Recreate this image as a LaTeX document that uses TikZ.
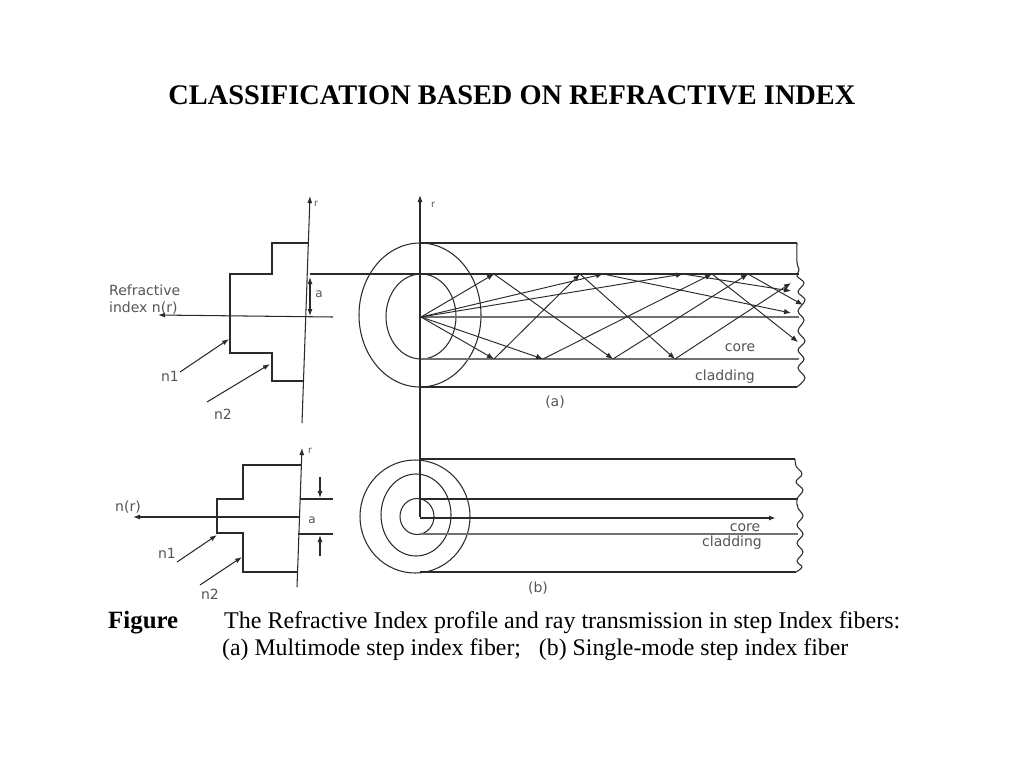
\documentclass[tikz,border=0pt]{standalone}
\usepackage{fontspec}
\usepackage{graphicx}
\setmainfont{Liberation Serif}
\newfontfamily\lblfont{DejaVu Sans}
\usetikzlibrary{arrows.meta}
\definecolor{lncol}{HTML}{2A2A2A}
\definecolor{lightln}{HTML}{707070}
\definecolor{txtcol}{HTML}{555555}
\tikzset{
  ln/.style={draw=lncol, line width=1.05pt},
  lnlight/.style={draw=lightln, line width=1.05pt},
  tip/.style={-{Latex[length=7pt,width=5pt]}},
  ray/.style={ln, line width=0.95pt, -{Latex[length=7pt,width=5.5pt]}},
  lbl/.style={font=\lblfont\fontsize{14}{16}\selectfont, text=txtcol, inner sep=0pt},
  small/.style={font=\lblfont\fontsize{9.5}{10}\selectfont, text=txtcol, inner sep=0pt}
}
\begin{document}
\begin{tikzpicture}[x=1pt,y=-1pt]
\useasboundingbox (0,0) rectangle (1024,768);
\fill[white] (0,0) rectangle (1024,768);

% Title
\node[inner sep=0pt] (title) at (512,95) {\resizebox{687pt}{!}{\bfseries CLASSIFICATION BASED ON REFRACTIVE INDEX}};

% ---------- Profile (a) ----------
\draw[ln, tip] (302,423) -- (310,196);
\node[small] (ra) at (316,204) {r};
\draw[ln] (309,243) -- (272,243) -- (272,274) -- (230,274) -- (230,353) -- (272,353) -- (272,381) -- (304,381);
\draw[ln, tip] (333,317) -- (158,315);
\draw[ln, {Latex[length=7pt,width=5pt]}-{Latex[length=7pt,width=5pt]}] (310,277) -- (310,316);
\node[lbl, font=\lblfont\fontsize{12}{13}\selectfont] (aa) at (319,294) {a};
\node[lbl, anchor=west] (refr1) at (109,290) {Refractive};
\node[lbl, anchor=west] (refr2) at (109,308) {index n(r)};
\coordinate (n1as) at (180,372);
\coordinate (n1ae) at (229,339);
\draw[ln, tip] (n1as) -- (n1ae);
\node[lbl] (n1a) at (170,376) {n1};
\coordinate (n2as) at (207,402);
\coordinate (n2ae) at (270,364);
\draw[ln, tip] (n2as) -- (n2ae);
\node[lbl] (n2a) at (223,414) {n2};

% ---------- Fiber (a) ----------
\draw[ln, tip] (420,517) -- (420,195);
\node[small] (rb) at (433,205) {r};
\draw[ln] (420,315) ellipse [x radius=61, y radius=72];
\draw[ln] (421,316.5) ellipse [x radius=35, y radius=42.5];
\draw[ln] (420,243) -- (797,243);
\draw[ln] (310,274) -- (799,274);
\draw[lnlight] (421,317) -- (799,317);
\draw[lnlight] (421,359) -- (799,359);
\draw[ln] (420,387) -- (797,387);
\draw[ln] plot[smooth, tension=0.6] coordinates {(797,243) (797,262) (799,270) (797,276) (804,283) (798,292) (805,300) (798,311) (804,320) (798,331) (805,341) (798,350) (804,359) (798,368) (805,378) (797,387)};

\coordinate (O) at (421,317);
\coordinate (T494) at (494,274);
\coordinate (B613) at (613,359);
\coordinate (T748) at (748,274);
\coordinate (E1) at (803,305);
\coordinate (B494) at (494,359);
\coordinate (T580) at (580,274);
\coordinate (B675) at (675,359);
\coordinate (E2) at (791,283);
\coordinate (B543) at (543,359);
\coordinate (T712) at (712,274);
\coordinate (E3) at (798,342);
\coordinate (T603) at (603,274);
\coordinate (E4) at (791,313);
\coordinate (T683) at (683,274);
\coordinate (E5) at (791,291);

\draw[ray] (O) -- (T494);
\draw[ray] (T494) -- (B613);
\draw[ray] (B613) -- (T748);
\draw[ray] (T748) -- (E1);
\draw[ray] (O) -- (B494);
\draw[ray] (B494) -- (T580);
\draw[ray] (T580) -- (B675);
\draw[ray] (B675) -- (E2);
\draw[ray] (O) -- (B543);
\draw[ray] (B543) -- (T712);
\draw[ray] (T712) -- (E3);
\draw[ray] (O) -- (T603);
\draw[ray] (T603) -- (E4);
\draw[ray] (O) -- (T683);
\draw[ray] (T683) -- (E5);

\node[lbl] (corea) at (740,348) {core};
\node[lbl] (cladda) at (725,377) {cladding};
\node[lbl] (laba) at (555,402) {(a)};

% ---------- Profile (b) ----------
\draw[ln, tip] (297,587) -- (302,448);
\node[small] (rc) at (310,451) {r};
\draw[ln] (301,465) -- (243,465) -- (243,499) -- (217,499) -- (217,533) -- (243,533) -- (243,572) -- (297,572);
\draw[ln, tip] (300,517) -- (133,517);
\node[lbl] (nrb) at (128,507) {n(r)};
\draw[ln] (300,499) -- (333,499);
\draw[ln] (298,534) -- (333,534);
\coordinate (dta) at (320,477);
\coordinate (dtb) at (320,498);
\coordinate (dba) at (320,556);
\coordinate (dbb) at (320,535);
\draw[ln, tip] (dta) -- (dtb);
\draw[ln, tip] (dba) -- (dbb);
\node[lbl, font=\lblfont\fontsize{12}{13}\selectfont] (ab) at (312,520) {a};
\coordinate (n1bs) at (177,562);
\coordinate (n1be) at (217,535);
\draw[ln, tip] (n1bs) -- (n1be);
\node[lbl] (n1b) at (167,553) {n1};
\coordinate (n2bs) at (200,585);
\coordinate (n2be) at (242,557);
\draw[ln, tip] (n2bs) -- (n2be);
\node[lbl] (n2b) at (210,594) {n2};

% ---------- Fiber (b) ----------
\draw[ln] (415,516.5) ellipse [x radius=55, y radius=56.5];
\draw[ln] (416,515) ellipse [x radius=35, y radius=41];
\draw[ln] (417,516.5) ellipse [x radius=17, y radius=18];
\draw[ln] (420,459) -- (795,459);
\draw[ln] (420,499) -- (798,499);
\draw[ln, line width=1.4pt, tip] (420,518) -- (776,518);
\draw[lnlight] (420,534) -- (798,534);
\draw[ln] (420,572) -- (796,572);
\draw[ln] plot[smooth, tension=0.6] coordinates {(795,459) (796,466) (802,474) (796,482) (803,490) (797,499) (798,508) (803,516) (797,525) (803,534) (797,543) (803,552) (797,561) (802,567) (796,572)};
\node[lbl] (coreb) at (745,528) {core};
\node[lbl] (claddb) at (732,543) {cladding};
\node[lbl] (labb) at (538,588) {(b)};

% ---------- Caption ----------
\node[inner sep=0pt, anchor=base west] (figw) at (108,628) {\resizebox{70pt}{!}{\bfseries Figure}};
\node[inner sep=0pt, anchor=base west] (cap1) at (224,628) {\resizebox{676pt}{!}{The Refractive Index profile and ray transmission in step Index fibers:}};
\node[inner sep=0pt, anchor=base west] (cap2) at (222,655) {\resizebox{626pt}{!}{(a) Multimode step index fiber;\ \ \ (b) Single-mode step index fiber}};
\end{tikzpicture}
\end{document}
